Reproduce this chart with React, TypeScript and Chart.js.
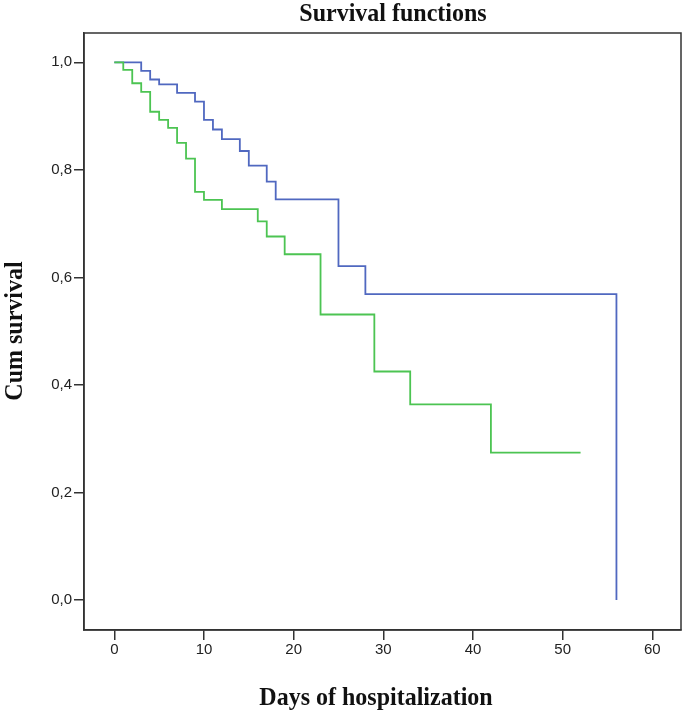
import React, { useEffect, useRef } from "react";
import { Chart, registerables } from "chart.js";

Chart.register(...registerables);

const chartTitle = "Survival functions";
const xTitle = "Days of hospitalization";
const yTitle = "Cum survival";

const xTickValues = [0, 10, 20, 30, 40, 50, 60];
const yTickValues = [0, 0.2, 0.4, 0.6, 0.8, 1.0];

const blueDays = [0, 3, 4, 5, 7, 9, 10, 11, 12, 14, 15, 17, 18, 25, 28, 56];
const blueSurvival = [1, 0.984, 0.968, 0.959, 0.943, 0.927, 0.893, 0.875, 0.857, 0.835, 0.808, 0.778, 0.745, 0.621, 0.569, 0];

const greenDays = [0, 1, 2, 3, 4, 5, 6, 7, 8, 9, 10, 12, 16, 17, 19, 23, 29, 33, 42, 52];
const greenSurvival = [1, 0.986, 0.961, 0.945, 0.908, 0.893, 0.878, 0.85, 0.821, 0.759, 0.744, 0.727, 0.704, 0.676, 0.643, 0.531, 0.425, 0.364, 0.274, 0.274];

const AXIS = "#333333";
const BLUE = "#5068c0";
const GREEN = "#4cc452";

const framePlugin = {
  id: "frameAndTitles",
  afterDraw(chart: any) {
    const { ctx, chartArea } = chart;
    ctx.save();
    ctx.strokeStyle = AXIS;
    ctx.lineWidth = 1.5;
    ctx.strokeRect(chartArea.left, chartArea.top, chartArea.right - chartArea.left, chartArea.bottom - chartArea.top);

    ctx.fillStyle = "#111111";
    ctx.font = "bold 25px 'Liberation Serif', 'Times New Roman', serif";
    ctx.textAlign = "center";
    ctx.textBaseline = "alphabetic";

    ctx.save();
    ctx.translate(393, 21);
    ctx.scale(0.96, 1);
    ctx.fillText(chartTitle, 0, 0);
    ctx.restore();

    ctx.save();
    ctx.translate(376, 705);
    ctx.scale(0.96, 1);
    ctx.fillText(xTitle, 0, 0);
    ctx.restore();

    ctx.save();
    ctx.translate(22, 331);
    ctx.rotate(-Math.PI / 2);
    ctx.scale(0.96, 1);
    ctx.fillText(yTitle, 0, 0);
    ctx.restore();

    ctx.restore();
  },
};

export default function App() {
  const ref = useRef<HTMLCanvasElement | null>(null);

  useEffect(() => {
    if (!ref.current) return;
    const chart = new Chart(ref.current, {
      type: "line",
      data: {
        datasets: [
          {
            label: "Group 2",
            data: greenDays.map((d, i) => ({ x: d, y: greenSurvival[i] })),
            borderColor: GREEN,
            borderWidth: 1.8,
            pointRadius: 0,
            stepped: "before",
            fill: false,
          },
          {
            label: "Group 1",
            data: blueDays.map((d, i) => ({ x: d, y: blueSurvival[i] })),
            borderColor: BLUE,
            borderWidth: 1.8,
            pointRadius: 0,
            stepped: "before",
            fill: false,
          },
        ],
      },
      options: {
        animation: false,
        responsive: false,
        layout: { padding: { top: 33, right: 4, left: 0, bottom: 0 } },
        plugins: {
          legend: { display: false },
          tooltip: { enabled: false },
          title: { display: false },
        },
        scales: {
          x: {
            type: "linear",
            min: -3.38,
            max: 63.2,
            afterFit: (s: any) => {
              s.height = 84;
            },
            afterBuildTicks: (s: any) => {
              s.ticks = xTickValues.map((v) => ({ value: v }));
            },
            ticks: {
              color: "#222222",
              font: { family: "'Liberation Sans', Arial, sans-serif", size: 15 },
              padding: 1,
              maxRotation: 0,
              callback: (v: any) => String(v),
            },
            grid: {
              display: true,
              drawOnChartArea: false,
              drawTicks: true,
              tickLength: 10,
              color: AXIS,
              lineWidth: 1.5,
            },
            border: { display: true, color: AXIS, width: 1.5 },
          },
          y: {
            type: "linear",
            min: -0.0558,
            max: 1.0545,
            afterFit: (s: any) => {
              s.width = 84;
            },
            afterBuildTicks: (s: any) => {
              s.ticks = yTickValues.map((v) => ({ value: v }));
            },
            ticks: {
              color: "#222222",
              font: { family: "'Liberation Sans', Arial, sans-serif", size: 15 },
              padding: 2,
              callback: (v: any) => Number(v).toFixed(1).replace(".", ","),
            },
            grid: {
              display: true,
              drawOnChartArea: false,
              drawTicks: true,
              tickLength: 10,
              color: AXIS,
              lineWidth: 1.5,
            },
            border: { display: true, color: AXIS, width: 1.5 },
          },
        },
      },
      plugins: [framePlugin],
    });
    return () => chart.destroy();
  }, []);

  return (
    <div style={{ position: "fixed", left: 0, top: 0, width: 685, height: 714, background: "#ffffff" }}>
      <canvas ref={ref} width={685} height={714} style={{ display: "block" }} />
    </div>
  );
}
